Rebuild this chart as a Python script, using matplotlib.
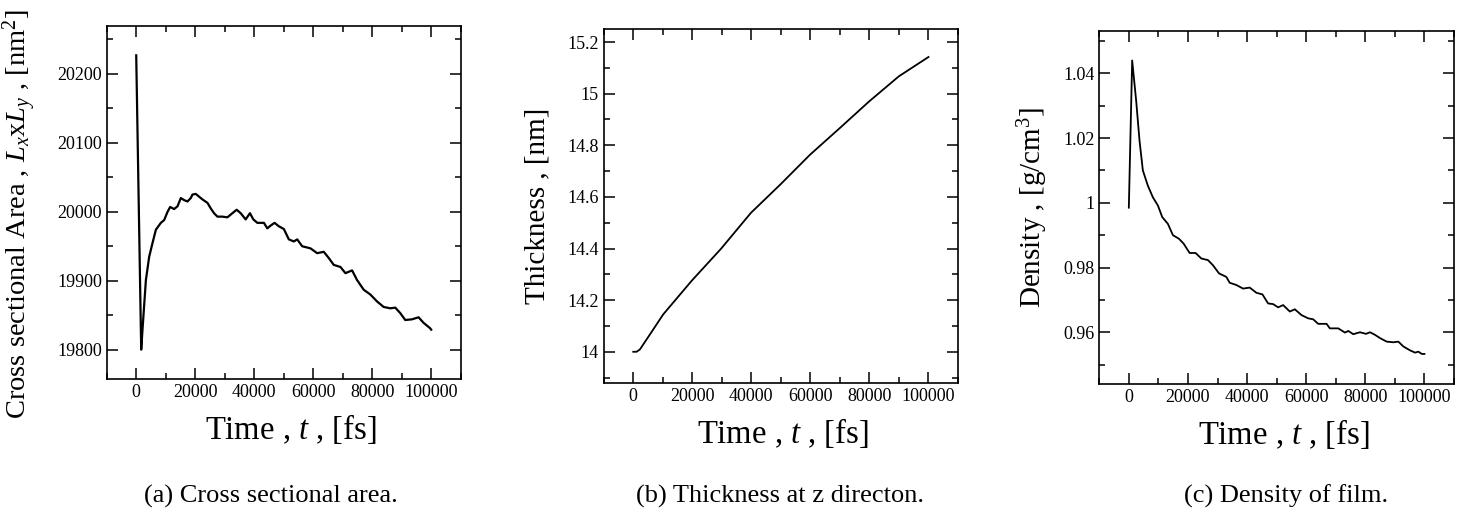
import matplotlib
matplotlib.use("Agg")
import matplotlib.pyplot as plt
from matplotlib.ticker import MultipleLocator, FormatStrFormatter

plt.rcParams['font.family'] = ['Liberation Serif', 'DejaVu Serif']
plt.rcParams['mathtext.fontset'] = 'custom'
plt.rcParams['mathtext.rm'] = 'Liberation Serif'
plt.rcParams['mathtext.it'] = 'Liberation Serif:italic'

# (a) cross sectional area
area_t = [0, 1690, 2160, 3280, 4400, 5540, 6660, 8350, 9470, 10620, 11500, 12850,
          14000, 15120, 16230, 17380, 18500, 19070, 20190, 21300, 22450, 24150,
          25260, 26380, 27530, 29220, 30910, 32030, 34060, 35410, 37100, 38550,
          39700, 41060, 43290, 44440, 45550, 46900, 48360, 50050, 51740, 53430,
          54580, 56270, 59080, 61340, 63580, 65270, 66960, 69230, 70920, 73180,
          74870, 77110, 79370, 81640, 83870, 86130, 87830, 89520, 91210, 93470,
          95710, 97400, 99660, 100000]
area_v = [20227, 19800, 19831, 19901, 19935, 19955, 19974, 19984, 19988, 20000, 20007, 20004,
          20008, 20020, 20017, 20015, 20020, 20025, 20026, 20022, 20018, 20013,
          20005, 19998, 19993, 19993, 19992, 19996, 20003, 19998, 19989, 19998,
          19989, 19984, 19984, 19976, 19980, 19984, 19979, 19975, 19960, 19957,
          19960, 19950, 19947, 19940, 19942, 19933, 19923, 19920, 19911, 19915,
          19901, 19887, 19880, 19870, 19862, 19860, 19861, 19853, 19843, 19844,
          19847, 19839, 19831, 19829]

# (b) thickness
thick_t = [0, 1130, 2260, 5640, 10160, 19860, 29800, 39840, 50000, 59930, 70000,
           79910, 89950, 100000]
thick_v = [14.0, 14.0, 14.009, 14.067, 14.145, 14.276, 14.40, 14.538, 14.65, 14.764,
           14.867, 14.97, 15.067, 15.142]

# (c) density
dens_t = [0, 1130, 2490, 3620, 4750, 6440, 8140, 9830, 11300, 13220, 14920, 16950,
          18530, 20560, 22600, 24520, 26780, 28470, 30510, 32990, 34120, 36380,
          38640, 40900, 43160, 45200, 47120, 48810, 50510, 52200, 54460, 56160,
          58420, 60680, 62370, 64070, 66890, 68020, 70850, 73110, 74240, 75930,
          78190, 80230, 81580, 83280, 84970, 87230, 89490, 91190, 92880, 95140,
          96840, 97970, 99100, 100000]
dens_v = [0.9985, 1.0440, 1.0315, 1.0192, 1.0100, 1.0053, 1.0017, 0.9992, 0.9956, 0.9935,
          0.9900, 0.9889, 0.9874, 0.9845, 0.9845, 0.9828, 0.9823, 0.9807, 0.9782, 0.9771,
          0.9753, 0.9746, 0.9735, 0.9738, 0.9722, 0.9717, 0.9689, 0.9687, 0.9677, 0.9684,
          0.9664, 0.9671, 0.9653, 0.9643, 0.9640, 0.9626, 0.9626, 0.9612, 0.9612, 0.9599,
          0.9604, 0.9594, 0.9600, 0.9595, 0.9600, 0.9592, 0.9582, 0.9571, 0.9569, 0.9571,
          0.9556, 0.9544, 0.9537, 0.9540, 0.9533, 0.9533]

fig = plt.figure(figsize=(14.7, 5.11), dpi=100)

panels = [
    dict(rect=[0.0726, 0.2577, 0.2408, 0.692], t=area_t, v=area_v, lw=1.6,
         ylim=(19757, 20270), major=100, minor=50,
         ylabel=r'Cross sectional Area , $L_x$x$L_y$ , [nm$^2$]', lx=-0.19, ly=0.467,
         lsize=20.5, xl=0.52, caption='(a) Cross sectional area.', cx=271),
    dict(rect=[0.4107, 0.251, 0.241, 0.692], t=thick_t, v=thick_v, lw=1.3,
         ylim=(13.88, 15.25), major=0.2, minor=0.1,
         ylabel='Thickness , [nm]', lx=-0.152, ly=0.5,
         lsize=21, xl=0.505, caption='(b) Thickness at z directon.', cx=780),
    dict(rect=[0.7478, 0.2485, 0.2413, 0.6914], t=dens_t, v=dens_v, lw=1.3,
         ylim=(0.944, 1.0532), major=0.02, minor=0.01,
         ylabel=r'Density , [g/cm$^3$]', lx=-0.139, ly=0.5,
         lsize=21, xl=0.52, caption='(c) Density of film.', cx=1286),
]

for p in panels:
    ax = fig.add_axes(p['rect'])
    ax.plot(p['t'], p['v'], color='black', linewidth=p['lw'])
    ax.set_xlim(-10000, 110000)
    ax.set_ylim(*p['ylim'])
    ax.xaxis.set_major_locator(MultipleLocator(20000))
    ax.xaxis.set_minor_locator(MultipleLocator(10000))
    ax.xaxis.set_major_formatter(FormatStrFormatter('%d'))
    ax.yaxis.set_major_locator(MultipleLocator(p['major']))
    ax.yaxis.set_minor_locator(MultipleLocator(p['minor']))
    ax.yaxis.set_major_formatter(FormatStrFormatter('%g'))
    ax.tick_params(which='both', direction='in', top=True, right=True,
                   labelsize=13, width=1.1)
    ax.tick_params(which='major', length=8)
    ax.tick_params(which='minor', length=4.5)
    for s in ax.spines.values():
        s.set_linewidth(1.2)
    ax.set_xlabel(r'Time , $t$ , [fs]', fontsize=23.5)
    ax.xaxis.set_label_coords(p['xl'], -0.093)
    ax.set_ylabel(p['ylabel'], fontsize=p['lsize'])
    ax.yaxis.set_label_coords(p['lx'], p['ly'])
    fig.text(p['cx'] / 1470, 1 - 496 / 511, p['caption'], ha='center', va='center',
             fontsize=19)

fig.savefig('out.png', dpi=100)
